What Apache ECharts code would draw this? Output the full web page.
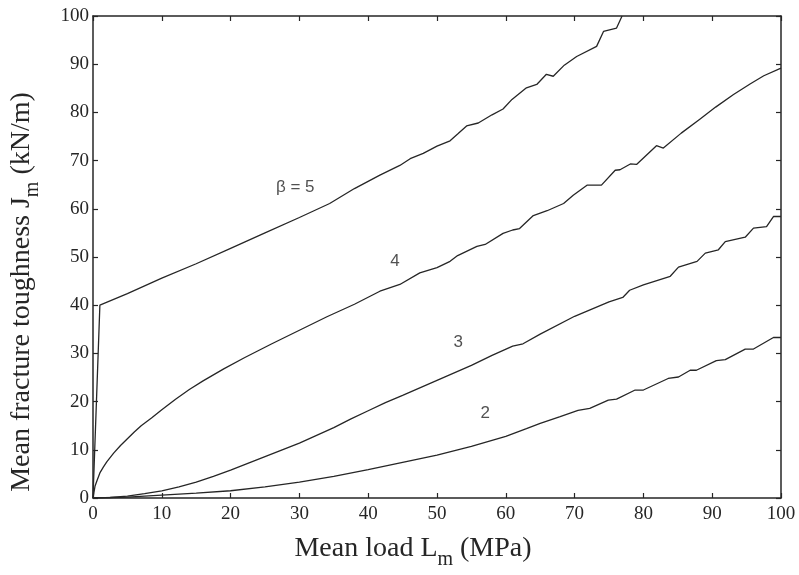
<!DOCTYPE html>
<html>
  <head>
<meta charset="utf-8">
<title>Mean fracture toughness vs mean load</title>
<script src="https://cdn.jsdelivr.net/npm/echarts@6/dist/echarts.min.js"></script>
<style>
  html, body { margin: 0; padding: 0; background: #fff; }
  #main { width: 799px; height: 575px; }
</style>
  </head>
  <body>
    <div id="main"></div>
    <script type="application/javascript">

// curves, [L_m (MPa), J_m (kN/m)]
var beta2 = [[0,0],[5,0.2],[10,0.6],[15,1.0],[20,1.5],[25,2.3],[30,3.3],[35,4.5],[40,5.9],[45,7.4],[50,8.9],[55,10.7],[60,12.8],[63,14.4],[65,15.5],[67.9,16.9],[70.5,18.2],[72.2,18.6],[74.9,20.3],[76.1,20.5],[78.8,22.4],[80,22.4],[83.6,24.8],[85.1,25.1],[86.8,26.5],[87.7,26.5],[90.6,28.5],[91.9,28.7],[94.8,30.9],[96,30.9],[98.9,33.3],[100,33.3]];
var beta3 = [[0,0],[2.5,0.1],[5,0.4],[7.5,0.9],[10,1.5],[12.5,2.3],[15,3.3],[17.5,4.5],[20,5.8],[22.5,7.2],[25,8.6],[27.5,10],[30,11.4],[32.5,13],[35,14.6],[37.5,16.4],[40,18.1],[42.5,19.8],[45,21.3],[50,24.4],[55,27.5],[58,29.6],[61,31.5],[62.5,32.0],[65,34.0],[70,37.7],[75,40.7],[77,41.6],[78,43.1],[80,44.2],[83.9,46.0],[85.1,47.9],[87.8,49.1],[89,50.8],[90.9,51.5],[91.9,53.2],[94.8,54.1],[96,56.0],[97.9,56.3],[98.9,58.4],[100,58.4]];
var beta4 = [[0,0],[0.3,2.5],[0.6,3.7],[1,5.2],[1.5,6.4],[2,7.5],[3,9.3],[4,10.9],[5,12.3],[6,13.7],[7,15],[8.5,16.6],[10,18.3],[12,20.5],[14,22.5],[16,24.3],[19,26.8],[22,29.1],[26,32],[30,34.8],[34,37.6],[38,40.2],[41.7,42.9],[44.6,44.3],[47.5,46.7],[50,47.8],[51.9,49.1],[53,50.3],[55.8,52.2],[57,52.6],[59.6,54.9],[61,55.6],[62,55.9],[64,58.6],[66,59.6],[68.4,61.1],[69.8,62.8],[71.8,64.9],[73.9,64.9],[75.9,68.0],[76.6,68.1],[78.1,69.3],[79,69.2],[81.9,73.1],[82.9,72.6],[85.5,75.7],[88.2,78.6],[90.5,81.1],[93.1,83.7],[95.5,85.9],[97.5,87.6],[100,89.2]];
var beta5 = [[0,0],[1,40],[5,42.4],[10,45.6],[15,48.6],[20,51.8],[25,55.0],[30,58.2],[34.4,61.1],[38,64.2],[41.7,67.0],[44.6,69.0],[46.1,70.4],[48,71.5],[50,73],[51.9,74.1],[53,75.5],[54.3,77.2],[56,77.8],[58,79.5],[59.6,80.7],[60.9,82.7],[63,85.1],[64.5,85.8],[65.9,87.9],[66.9,87.5],[68.5,89.8],[70.3,91.6],[73.2,93.7],[74.2,96.8],[76.1,97.5],[76.9,100]];

// curve labels
var curveLabels = ['β = 5', '4', '3', '2'];
var labelX = [29.4, 43.9, 53.1, 57.0];
var labelY = [64.4, 49.2, 32.3, 17.6];

var ink = '#262626';
var serif = 'Liberation Serif';

var myChart = echarts.init(document.getElementById('main'));

function frameAxis(pos, showLabels) {
  return {
    type: 'value', position: pos, min: 0, max: 100, interval: 10,
    axisLine: { show: true, onZero: false, lineStyle: { color: ink, width: 1.5 } },
    axisTick: { show: true, inside: true, length: 5, lineStyle: { color: ink, width: 1.2 } },
    axisLabel: { show: showLabels, color: ink, fontFamily: serif, fontSize: 19 },
    splitLine: { show: false }
  };
}

var xBottom = frameAxis('bottom', true);
xBottom.axisLabel.margin = 7;
xBottom.name = '{a|Mean load L}{b|m}{a| (MPa)}';
xBottom.nameLocation = 'middle';
xBottom.nameGap = 30;
xBottom.nameTextStyle = {
  padding: [0, 48, 0, 0],
  rich: {
    a: { fontFamily: serif, fontSize: 28, color: ink },
    b: { fontFamily: serif, fontSize: 20, color: ink, padding: [22, 0, 0, 0] }
  }
};
var xTop = frameAxis('top', false);

var yLeft = frameAxis('left', true);
yLeft.axisLabel.margin = 4;
yLeft.name = '{a|Mean fracture toughness J}{b|m}{a| (kN/m)}';
yLeft.nameLocation = 'middle';
yLeft.nameGap = 50;
yLeft.nameTextStyle = {
  padding: [0, 70, 0, 0],
  rich: {
    a: { fontFamily: serif, fontSize: 28, color: ink },
    b: { fontFamily: serif, fontSize: 20, color: ink, padding: [22, 0, 0, 0] }
  }
};
var yRight = frameAxis('right', false);

function curve(name, data) {
  return {
    name: name, type: 'line', data: data,
    xAxisIndex: 0, yAxisIndex: 0,
    showSymbol: false, symbol: 'none', clip: true,
    lineStyle: { color: ink, width: 1.3 },
    animation: false
  };
}

var labelData = curveLabels.map(function (t, i) {
  return { name: t, value: [labelX[i], labelY[i]] };
});

myChart.setOption({
  backgroundColor: '#fff',
  animation: false,
  grid: { left: 93, right: 18, top: 16, bottom: 73 },
  xAxis: [xBottom, xTop],
  yAxis: [yLeft, yRight],
  series: [
    curve('2', beta2),
    curve('3', beta3),
    curve('4', beta4),
    curve('5', beta5),
    {
      type: 'scatter', data: labelData, symbolSize: 1,
      itemStyle: { color: 'rgba(0,0,0,0)' },
      label: {
        show: true, position: 'inside', color: ink,
        fontFamily: 'Liberation Sans', fontSize: 17,
        formatter: function (p) { return p.name; }
      },
      silent: true
    }
  ]
});

</script>
  </body>
</html>
